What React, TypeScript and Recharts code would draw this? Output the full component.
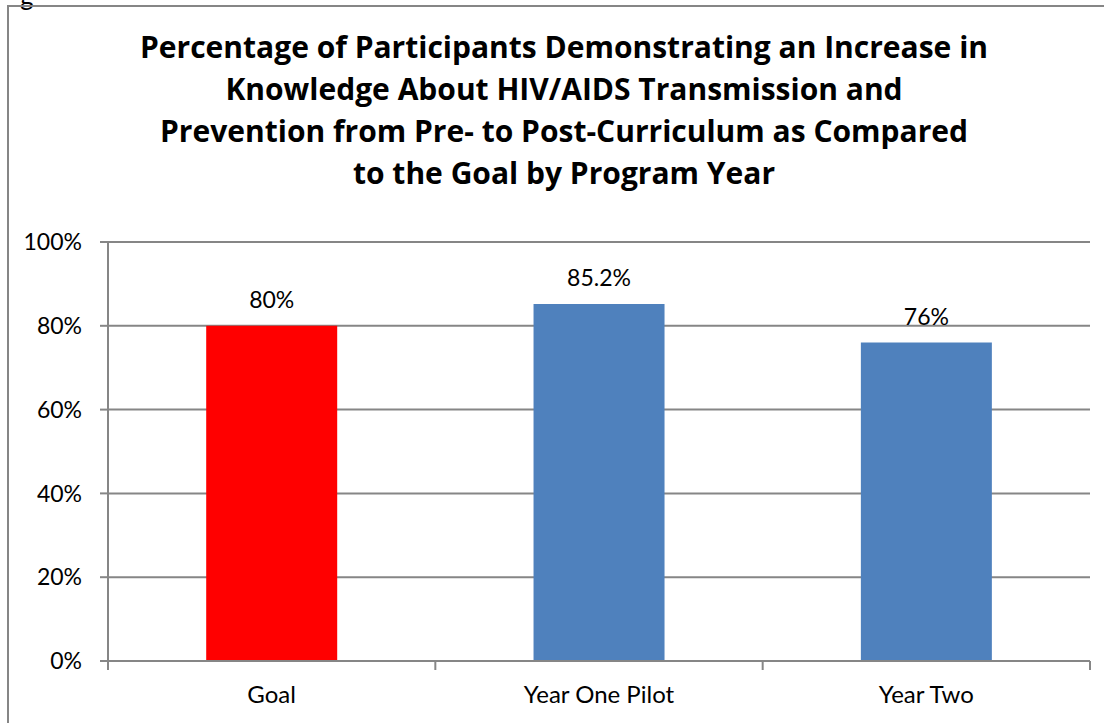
import React from "react";
import { BarChart, Bar, XAxis, YAxis, CartesianGrid, LabelList, Cell } from "recharts";

const categories = ["Goal", "Year One Pilot", "Year Two"];
const values = [0.8, 0.852, 0.76];
const valueLabels = ["80%", "85.2%", "76%"];
const barColors = ["#FF0000", "#4F81BD", "#4F81BD"];
const yTicks = [0, 0.2, 0.4, 0.6, 0.8, 1];
const titleLines = [
  "Percentage of Participants Demonstrating an Increase in",
  "Knowledge About HIV/AIDS Transmission and",
  "Prevention from Pre- to Post-Curriculum as Compared",
  "to the Goal by Program Year",
];

const data = categories.map((name, i) => ({ name, value: values[i], label: valueLabels[i] }));

const FONT = "Lato, 'Open Sans', sans-serif";
const TITLE_FONT = "'Open Sans', Lato, sans-serif";
const AXIS = "#868686";

const CategoryTick = (props: any) => {
  const { x, y, payload, index, visibleTicksCount } = props;
  const half = payload.offset ?? 0;
  const top = y - 8;
  return (
    <g>
      <line x1={x - half} x2={x - half} y1={top} y2={top + 9} stroke={AXIS} strokeWidth={2} />
      {index === visibleTicksCount - 1 && (
        <line x1={x + half} x2={x + half} y1={top} y2={top + 9} stroke={AXIS} strokeWidth={2} />
      )}
      <text x={x} y={y + 34} textAnchor="middle" fontFamily={FONT} fontSize={24} fill="#000">
        {payload.value}
      </text>
    </g>
  );
};

export default function App() {
  return (
    <div style={{ position: "absolute", left: 0, top: 0, width: 1104, height: 723, overflow: "hidden", background: "#fff" }}>
      <div style={{ position: "absolute", left: 20, top: -21, fontFamily: FONT, fontSize: 26, color: "#000" }}>g</div>
      <div
        style={{
          position: "absolute",
          left: 7,
          top: 5,
          width: 1110,
          height: 730,
          border: `2px solid ${AXIS}`,
          boxSizing: "border-box",
        }}
      />
      <div
        style={{
          position: "absolute",
          left: 7,
          top: 26,
          width: 1114,
          textAlign: "center",
          fontFamily: TITLE_FONT,
          fontWeight: 700,
          fontSize: 30,
          lineHeight: "42px",
          color: "#000",
        }}
      >
        {titleLines.map((l) => (
          <div key={l} style={{ whiteSpace: "nowrap" }}>{l}</div>
        ))}
      </div>
      <div style={{ position: "absolute", left: 0, top: 0 }}>
        <BarChart
          width={1104}
          height={723}
          data={data}
          margin={{ top: 242, right: 14, bottom: 32, left: 0 }}
          barCategoryGap="30%"
        >
          <CartesianGrid vertical={false} stroke={AXIS} strokeWidth={2} />
          <XAxis
            dataKey="name"
            height={30}
            axisLine={{ stroke: AXIS, strokeWidth: 2 }}
            tickLine={false}
            tick={<CategoryTick />}
            interval={0}
          />
          <YAxis
            width={108}
            domain={[0, 1]}
            ticks={yTicks}
            tickFormatter={(v: number) => `${Math.round(v * 100)}%`}
            axisLine={{ stroke: AXIS, strokeWidth: 2 }}
            tickLine={{ stroke: AXIS, strokeWidth: 2 }}
            tickSize={8}
            tickMargin={18}
            tick={{ fontFamily: FONT, fontSize: 23, fill: "#000" }}
          />
          <Bar dataKey="value" isAnimationActive={false}>
            {data.map((d, i) => (
              <Cell key={d.name} fill={barColors[i]} />
            ))}
            <LabelList dataKey="label" position="top" offset={18} fontFamily={FONT} fontSize={23} fill="#000" />
          </Bar>
        </BarChart>
      </div>
    </div>
  );
}
